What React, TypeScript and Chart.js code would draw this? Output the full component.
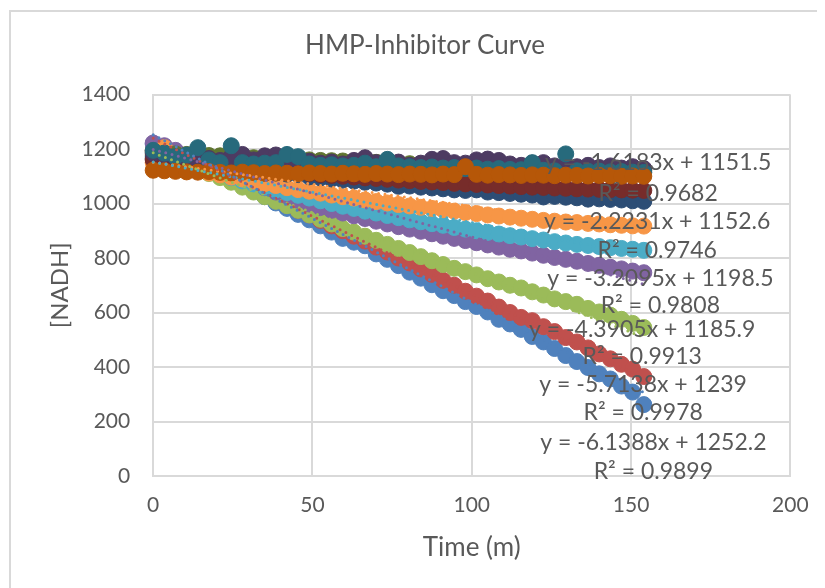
import React, { useEffect, useRef } from "react";
import { Chart, registerables } from "chart.js";

Chart.register(...registerables);

const TITLE = "HMP-Inhibitor Curve";
const X_TITLE = "Time (m)";
const Y_TITLE = "[NADH]";

const TIMES = [0, 3.5, 7, 10.5, 14, 17.5, 21, 24.5, 28, 31.5, 35, 38.5, 42, 45.5, 49, 52.5, 56, 59.5, 63, 66.5, 70, 73.5, 77, 80.5, 84, 87.5, 91, 94.5, 98, 101.5, 105, 108.5, 112, 115.5, 119, 122.5, 126, 129.5, 133, 136.5, 140, 143.5, 147, 150.5, 154];

const S1_BLUE = [1218, 1205, 1190, 1172, 1150, 1128, 1105, 1085, 1068, 1046, 1025, 1002, 982, 960, 940, 918, 895, 872, 858, 845, 815, 795, 772, 748, 726, 702, 680, 662, 640, 622, 602, 575, 558, 538, 512, 492, 468, 442, 420, 398, 375, 356, 330, 308, 262];
const S2_RED = [1195, 1190, 1178, 1160, 1140, 1122, 1102, 1085, 1068, 1050, 1032, 1012, 995, 975, 958, 938, 918, 900, 880, 862, 840, 822, 800, 782, 760, 740, 718, 700, 678, 660, 642, 620, 600, 582, 570, 548, 530, 508, 492, 470, 448, 430, 410, 392, 365];
const S3_GREEN = [1178, 1170, 1160, 1142, 1125, 1110, 1095, 1078, 1060, 1042, 1025, 1008, 992, 975, 958, 942, 925, 908, 895, 880, 865, 850, 835, 820, 805, 790, 776, 762, 750, 738, 724, 712, 700, 690, 676, 664, 650, 640, 630, 615, 602, 590, 575, 560, 545];
const S4_PURPLE = [1222, 1212, 1195, 1178, 1160, 1142, 1125, 1108, 1090, 1075, 1058, 1042, 1028, 1012, 998, 985, 975, 965, 955, 945, 935, 925, 915, 906, 898, 889, 880, 872, 864, 856, 848, 840, 832, 826, 818, 810, 802, 795, 788, 780, 773, 766, 760, 752, 746];
const S5_AQUA = [1172, 1165, 1155, 1145, 1132, 1120, 1108, 1095, 1083, 1072, 1060, 1050, 1040, 1030, 1020, 1010, 1000, 990, 982, 972, 965, 956, 948, 940, 933, 926, 920, 912, 906, 900, 894, 888, 882, 877, 871, 866, 860, 855, 850, 846, 842, 838, 835, 832, 828];
const S6_ORANGE = [1150, 1205, 1140, 1130, 1122, 1112, 1105, 1097, 1090, 1082, 1073, 1066, 1058, 1051, 1045, 1038, 1031, 1025, 1020, 1013, 1007, 1002, 996, 991, 986, 982, 977, 972, 967, 963, 958, 954, 950, 946, 942, 938, 935, 932, 930, 927, 925, 922, 920, 918, 917];
const S7_DKBLUE = [1165, 1160, 1155, 1150, 1145, 1140, 1135, 1130, 1126, 1120, 1115, 1112, 1108, 1106, 1098, 1094, 1090, 1086, 1082, 1078, 1075, 1071, 1063, 1064, 1060, 1057, 1054, 1050, 1048, 1050, 1042, 1040, 1037, 1034, 1031, 1024, 1026, 1023, 1021, 1016, 1017, 1015, 1013, 1010, 1008];
const S8_DKRED = [1160, 1158, 1155, 1150, 1146, 1142, 1138, 1134, 1130, 1127, 1123, 1120, 1116, 1113, 1110, 1106, 1103, 1100, 1097, 1094, 1092, 1089, 1086, 1084, 1081, 1079, 1077, 1074, 1072, 1070, 1068, 1066, 1064, 1062, 1060, 1059, 1057, 1056, 1054, 1053, 1052, 1051, 1050, 1049, 1048];
const S9_DKGREEN = [1190, 1185, 1182, 1180, 1178, 1176, 1175, 1172, 1170, 1168, 1166, 1164, 1163, 1161, 1160, 1158, 1157, 1156, 1154, 1152, 1151, 1149, 1148, 1146, 1145, 1143, 1142, 1140, 1139, 1138, 1136, 1135, 1134, 1133, 1132, 1131, 1130, 1129, 1128, 1127, 1126, 1125, 1124, 1123, 1122];
const S10_DKPURPLE = [1185, 1178, 1170, 1168, 1160, 1165, 1158, 1172, 1180, 1160, 1175, 1178, 1162, 1150, 1155, 1148, 1152, 1145, 1158, 1168, 1150, 1145, 1152, 1140, 1148, 1162, 1165, 1150, 1148, 1160, 1163, 1158, 1145, 1140, 1148, 1150, 1138, 1142, 1135, 1140, 1132, 1138, 1130, 1135, 1128];
const S11_DKAQUA = [1195, 1185, 1172, 1178, 1205, 1160, 1150, 1212, 1150, 1145, 1148, 1150, 1180, 1172, 1145, 1140, 1142, 1138, 1140, 1148, 1135, 1162, 1138, 1135, 1132, 1134, 1130, 1132, 1128, 1130, 1126, 1128, 1125, 1124, 1150, 1122, 1120, 1182, 1120, 1118, 1119, 1116, 1117, 1115, 1114];
const S12_DKORANGE = [1122, 1120, 1118, 1116, 1115, 1117, 1114, 1112, 1115, 1113, 1110, 1112, 1111, 1109, 1112, 1110, 1108, 1111, 1109, 1107, 1110, 1108, 1106, 1108, 1107, 1105, 1108, 1106, 1135, 1107, 1104, 1106, 1105, 1103, 1105, 1104, 1102, 1104, 1103, 1101, 1103, 1102, 1100, 1101, 1100];

const SERIES = [S1_BLUE, S2_RED, S3_GREEN, S4_PURPLE, S5_AQUA, S6_ORANGE, S7_DKBLUE, S8_DKRED, S9_DKGREEN, S10_DKPURPLE, S11_DKAQUA, S12_DKORANGE];
const COLORS = ["#4F81BD", "#C0504D", "#9BBB59", "#8064A2", "#4BACC6", "#F79646", "#2C4D75", "#772C2A", "#5F7530", "#4D3B62", "#276A7C", "#B65708"];

// trendline coefficients (series 1..6)
const TREND_SLOPES = [-6.1388, -5.7138, -4.3905, -3.2095, -2.2231, -1.6183];
const TREND_INTERCEPTS = [1252.2, 1239, 1185.9, 1198.5, 1152.6, 1151.5];
const TREND_R2 = ["0.9899", "0.9978", "0.9913", "0.9808", "0.9746", "0.9682"];

const X_TICK_STEP = 50;
const Y_TICK_STEP = 200;

// label anchors (data units): [centerX, eqY, r2Y]
const LABEL_POS = [
  [157.0, 121, 15],
  [153.8, 334, 231],
  [153.5, 536, 437],
  [159.2, 725, 624],
  [158.2, 934, 829],
  [158.5, 1149, 1037],
];

const FONT = "Lato, 'Open Sans', sans-serif";
const TEXT = "#595959";
const GRID = "#D9D9D9";

const framePlugin = {
  id: "frame",
  beforeDraw(chart: any) {
    const ctx = chart.ctx;
    ctx.save();
    ctx.fillStyle = "#fff";
    ctx.fillRect(0, 0, chart.width, chart.height);
    ctx.strokeStyle = GRID;
    ctx.lineWidth = 2;
    ctx.beginPath();
    ctx.moveTo(2, chart.height + 5);
    ctx.lineTo(2, 3);
    ctx.lineTo(chart.width + 5, 3);
    ctx.stroke();
    ctx.restore();
  },
  afterDraw(chart: any) {
    const ctx = chart.ctx;
    const area = chart.chartArea;
    ctx.save();
    ctx.fillStyle = TEXT;
    ctx.textAlign = "center";
    ctx.textBaseline = "middle";
    ctx.font = `26px ${FONT}`;
    ctx.fillText(TITLE, 417, 38);
    ctx.translate(52.5, (area.top + area.bottom) / 2);
    ctx.rotate(-Math.PI / 2);
    ctx.font = `24px ${FONT}`;
    ctx.fillText(Y_TITLE, 0, 0);
    ctx.restore();
  },
};

const labelPlugin = {
  id: "trendLabels",
  afterDatasetsDraw(chart: any) {
    const ctx = chart.ctx;
    const xs = chart.scales.x;
    const ys = chart.scales.y;
    ctx.save();
    ctx.fillStyle = TEXT;
    ctx.font = `23px ${FONT}`;
    ctx.textAlign = "center";
    ctx.textBaseline = "middle";
    LABEL_POS.forEach((p, i) => {
      const eq = `y = ${TREND_SLOPES[i]}x + ${TREND_INTERCEPTS[i]}`;
      const r2 = `R² = ${TREND_R2[i]}`;
      const cx = xs.getPixelForValue(p[0]);
      ctx.fillText(eq, cx, ys.getPixelForValue(p[1]));
      ctx.fillText(r2, cx, ys.getPixelForValue(p[2]));
    });
    ctx.restore();
  },
};

export default function App() {
  const ref = useRef<HTMLCanvasElement | null>(null);
  useEffect(() => {
    if (!ref.current) return;
    const datasets: any[] = SERIES.map((vals, i) => ({
      label: `Series${i + 1}`,
      data: vals.map((v, j) => ({ x: TIMES[j], y: v })),
      backgroundColor: COLORS[i],
      borderColor: COLORS[i],
      pointRadius: 8,
      pointBorderWidth: 1,
      showLine: false,
      clip: false,
      order: SERIES.length - i,
    }));
    TREND_SLOPES.forEach((m, i) => {
      const x0 = TIMES[0];
      const x1 = TIMES[TIMES.length - 1];
      datasets.push({
        label: `Trend${i + 1}`,
        data: [
          { x: x0, y: TREND_INTERCEPTS[i] + m * x0 },
          { x: x1, y: TREND_INTERCEPTS[i] + m * x1 },
        ],
        borderColor: COLORS[i],
        borderWidth: 3,
        borderDash: [0, 6.5],
        borderCapStyle: "round",
        pointRadius: 0,
        showLine: true,
        fill: false,
        clip: false,
        order: 0,
      });
    });
    const chart = new Chart(ref.current, {
      type: "scatter",
      data: { datasets },
      options: {
        animation: false,
        responsive: false,
        devicePixelRatio: 1,
        layout: { padding: { left: 17, right: 34, top: 86.5, bottom: 0 } },
        plugins: {
          legend: { display: false },
          tooltip: { enabled: false },
          title: { display: false },
        },
        scales: {
          x: {
            type: "linear",
            min: 0,
            max: 200,
            ticks: {
              stepSize: X_TICK_STEP,
              color: TEXT,
              font: { family: FONT, size: 21 },
              padding: 16.4,
              callback: (v: any) => String(v),
            },
            grid: { color: GRID, lineWidth: 2, drawTicks: false },
            border: { color: GRID, width: 2 },
            title: {
              display: true,
              text: X_TITLE,
              color: TEXT,
              font: { family: FONT, size: 26 },
              padding: { top: 0, bottom: 24.4 },
            },
            afterFit: (s: any) => {
              s.height = 112;
            },
          },
          y: {
            type: "linear",
            min: 0,
            max: 1400,
            ticks: {
              stepSize: Y_TICK_STEP,
              color: TEXT,
              font: { family: FONT, size: 21 },
              padding: 23,
              callback: (v: any) => String(v),
            },
            grid: { color: GRID, lineWidth: 2, drawTicks: false },
            border: { color: GRID, width: 2 },
            title: { display: false },
            afterFit: (s: any) => {
              s.width = 128.2;
            },
          },
        },
      } as any,
      plugins: [framePlugin, labelPlugin],
    });
    return () => chart.destroy();
  }, []);
  return (
    <div style={{ width: 817, height: 580 }}>
      <canvas ref={ref} width={817} height={580} style={{ display: "block" }} />
    </div>
  );
}
